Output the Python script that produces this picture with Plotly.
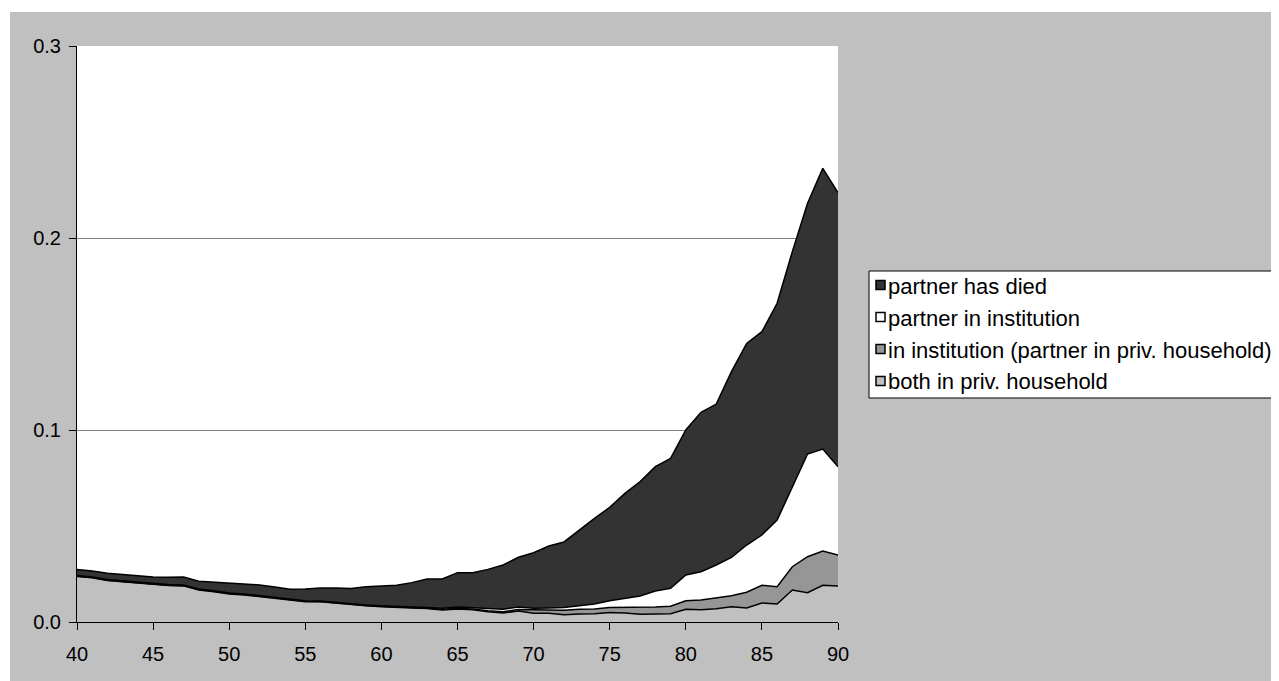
import plotly.graph_objects as go

# ages on the x axis
ages = list(range(40, 91))

# stacked shares, bottom to top
both_priv_household = [
    0.0237, 0.0230, 0.0216, 0.0209, 0.0205, 0.0195, 0.0190, 0.0188, 0.0167, 0.0158,
    0.0146, 0.0141, 0.0132, 0.0122, 0.0112, 0.0106, 0.0105, 0.0098, 0.0089, 0.0084,
    0.0080, 0.0075, 0.0073, 0.0070, 0.0063, 0.0068, 0.0064, 0.0054, 0.0047, 0.0057,
    0.0045, 0.0045, 0.0038, 0.0042, 0.0043, 0.0050, 0.0047, 0.0040, 0.0043, 0.0043,
    0.0066, 0.0064, 0.0069, 0.0080, 0.0073, 0.0099, 0.0094, 0.0167, 0.0153, 0.0191,
    0.0188,
]
in_institution = [
    0.0002, 0.0002, 0.0002, 0.0002, 0.0002, 0.0002, 0.0002, 0.0002, 0.0002, 0.0002,
    0.0002, 0.0002, 0.0002, 0.0002, 0.0002, 0.0002, 0.0002, 0.0002, 0.0002, 0.0002,
    0.0002, 0.0002, 0.0002, 0.0002, 0.0003, 0.0004, 0.0004, 0.0005, 0.0006, 0.0008,
    0.0018, 0.0018, 0.0023, 0.0024, 0.0025, 0.0025, 0.0029, 0.0035, 0.0035, 0.0039,
    0.0045, 0.0051, 0.0058, 0.0057, 0.0082, 0.0092, 0.0090, 0.0121, 0.0187, 0.0179,
    0.0161,
]
partner_in_institution = [
    0.0003, 0.0003, 0.0003, 0.0003, 0.0003, 0.0003, 0.0003, 0.0003, 0.0003, 0.0003,
    0.0003, 0.0003, 0.0003, 0.0003, 0.0003, 0.0003, 0.0003, 0.0003, 0.0003, 0.0003,
    0.0003, 0.0003, 0.0003, 0.0003, 0.0005, 0.0006, 0.0007, 0.0012, 0.0013, 0.0013,
    0.0008, 0.0010, 0.0014, 0.0019, 0.0026, 0.0036, 0.0047, 0.0060, 0.0083, 0.0093,
    0.0134, 0.0147, 0.0170, 0.0200, 0.0246, 0.0262, 0.0347, 0.0417, 0.0535, 0.0531,
    0.0460,
]
partner_died = [
    0.0032, 0.0031, 0.0033, 0.0034, 0.0031, 0.0034, 0.0038, 0.0041, 0.0040, 0.0044,
    0.0049, 0.0052, 0.0056, 0.0055, 0.0053, 0.0061, 0.0067, 0.0074, 0.0081, 0.0095,
    0.0103, 0.0111, 0.0127, 0.0149, 0.0153, 0.0179, 0.0182, 0.0203, 0.0231, 0.0259,
    0.0290, 0.0323, 0.0342, 0.0394, 0.0446, 0.0486, 0.0547, 0.0596, 0.0648, 0.0677,
    0.0755, 0.0830, 0.0838, 0.0967, 0.1050, 0.1059, 0.1129, 0.1224, 0.1306, 0.1462,
    0.1427,
]

series_names = [
    "both in priv. household",
    "in institution (partner in priv. household)",
    "partner in institution",
    "partner has died",
]
series_values = [both_priv_household, in_institution, partner_in_institution, partner_died]
fill_colors = ["#C0C0C0", "#969696", "#FFFFFF", "#333333"]

# the html page puts the figure 8px in from the top-left corner;
# the figure is left a bit oversized so the gray runs to the window edges
OFF = 8
W, H = 1279, 681
L, R, T, B = 77 - OFF, 838 - OFF, 46 - OFF, 622 - OFF  # plot area in figure pixels
FONT = "Liberation Sans, Arial, sans-serif"


def px_x(p):
    # window pixel -> paper x
    return (p - OFF - L) / (R - L)


def px_y(p):
    # window pixel -> paper y
    return (B - (p - OFF)) / (B - T)


fig = go.Figure()
for name, vals, col in zip(series_names, series_values, fill_colors):
    fig.add_trace(
        go.Scatter(
            x=ages,
            y=vals,
            name=name,
            mode="lines",
            stackgroup="one",
            fillcolor=col,
            line=dict(color="black", width=1.5),
            showlegend=False,
            hoverinfo="x+y+name",
        )
    )

shapes = [
    # white strips at the left and top edges of the page
    dict(type="rect", xref="paper", yref="paper", x0=px_x(0), x1=px_x(10),
         y0=px_y(700), y1=px_y(0), fillcolor="white", line=dict(width=0), layer="below"),
    dict(type="rect", xref="paper", yref="paper", x0=px_x(0), x1=px_x(1300),
         y0=px_y(12), y1=px_y(0), fillcolor="white", line=dict(width=0), layer="below"),
    # legend box
    dict(type="rect", xref="paper", yref="paper", x0=px_x(869), x1=px_x(1300),
         y0=px_y(398), y1=px_y(271), fillcolor="white", line=dict(color="black", width=1)),
]
annotations = []

# legend entries, top to bottom
row_y = [285, 317, 349, 381]
for i, (name, col) in enumerate(zip(series_names[::-1], fill_colors[::-1])):
    cy = row_y[i]
    shapes.append(
        dict(type="rect", xref="paper", yref="paper",
             x0=px_x(876), x1=px_x(885), y0=px_y(cy + 4.5), y1=px_y(cy - 4.5),
             fillcolor=col, line=dict(color="black", width=1.5))
    )
    annotations.append(
        dict(text=name, xref="paper", yref="paper", x=px_x(886), y=px_y(cy + 1),
             xanchor="left", yanchor="middle", showarrow=False,
             font=dict(family=FONT, size=22, color="black"))
    )

fig.update_layout(
    width=W,
    height=H,
    margin=dict(l=L, r=W - R, t=T, b=H - B, pad=0),
    paper_bgcolor="#C0C0C0",
    plot_bgcolor="white",
    font=dict(family=FONT, size=20, color="black"),
    showlegend=False,
    shapes=shapes,
    annotations=annotations,
    xaxis=dict(
        range=[40, 90],
        tickvals=list(range(40, 91, 5)),
        ticks="outside",
        ticklen=7,
        tickcolor="black",
        showgrid=False,
        zeroline=False,
        showline=True,
        linecolor="black",
        linewidth=1,
        ticklabelstandoff=7,
    ),
    yaxis=dict(
        range=[0, 0.3],
        tickvals=[0, 0.1, 0.2, 0.3],
        tickformat=".1f",
        ticks="outside",
        ticklen=7,
        tickcolor="black",
        showgrid=True,
        gridcolor="#808080",
        gridwidth=1,
        zeroline=False,
        showline=True,
        linecolor="black",
        linewidth=1,
        ticklabelstandoff=4,
    ),
)

fig.write_html("out.html")
